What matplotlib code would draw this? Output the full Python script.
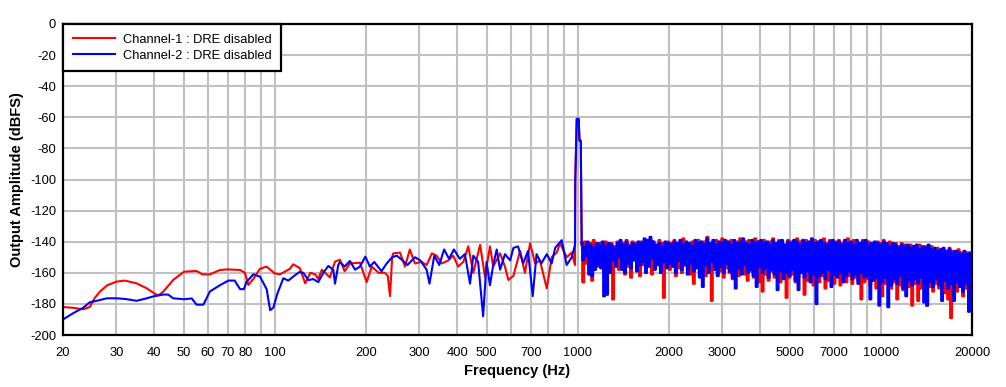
import numpy as np
import matplotlib
matplotlib.use('Agg')
import matplotlib.pyplot as plt

# ---- dados ----
# Canal 1 (vermelho): trecho suave + trecho ate o pico de 1 kHz
ch1_freq = [20, 21.6, 23.3, 24.5, 25.5, 26.5, 28, 30, 32, 35, 37.8, 40, 41.3, 42.9, 46.2, 50.2,
            55.2, 57.6, 61.1, 65.9, 70, 76.8, 79.7, 81.8, 84.9, 89.3, 93.9, 100, 104, 112,
            115, 121, 126, 131, 136, 139, 143, 152, 158, 164,
            170, 177, 191, 201, 209, 220, 231, 236, 240, 244, 246,
            259, 269, 279, 290, 305, 317, 330, 342, 356, 374,
            388, 403, 419, 435, 452, 476, 494, 513, 526, 554,
            575, 590, 613, 645, 669, 696, 723, 750, 790, 820,
            852, 874, 919, 955, 979,
            981, 992, 1007, 1013, 1023]
ch1_db = [-182, -182.5, -183.5, -182, -176, -172, -168, -165.7, -165, -166.8, -170, -173.2, -174.6,
          -172, -164.6, -159.3, -158.8, -161, -161, -158.2, -157.8, -158.2, -160, -167.8, -164,
          -157.5, -156, -160.4, -161, -157.5, -154.5, -157, -166.8, -160, -161, -164, -158,
          -163, -152.8, -151.6,
          -159, -154, -153.5, -166, -156, -160, -160, -162, -175, -150, -147.5,
          -147, -156, -145, -154, -153, -155, -147.5, -149, -154, -152,
          -149, -156, -153, -143, -160, -142, -162.5, -143, -156, -147.5,
          -156, -164.6, -162, -146, -160, -141, -154, -152, -170, -150,
          -147, -141, -150, -147, -155,
          -101, -61, -61, -75, -75]

# Canal 2 (azul)
ch2_freq = [20, 21.6, 23.3, 24.5, 26.5, 27.9, 30, 32, 35, 37.8,
            40, 42.9, 44.5, 46.2, 50.2, 53.2, 55.2, 58.1, 61.1, 65.9,
            70.3, 73.7, 76.8, 79.1, 80.6, 84.9, 89.4, 94, 96.5, 98.9,
            101.9, 106.7, 110.8, 115, 120.5, 124.2, 129, 134, 139.2, 144.6,
            150.2, 156, 158, 162, 164,
            170, 177, 184, 191, 199, 206, 213, 225, 234, 244,
            253, 264, 274, 290, 302, 317, 324, 336, 349, 362,
            376, 390, 408, 424, 441, 452, 469, 487, 500, 513,
            526, 540, 554, 575, 598, 613, 635, 660, 685, 710,
            731, 758, 790, 820, 842, 885, 919, 955, 979,
            981, 992, 1007, 1013, 1023]
ch2_db = [-190, -186, -182.5, -179, -177.5, -176.4, -176.4, -176.8, -178, -176.4,
          -175, -174, -174, -176.4, -177, -176.5, -180.5, -180.5, -172, -168,
          -165, -165, -170.5, -170.5, -166, -161, -162.5, -170.5, -184, -182.5,
          -173.6, -163.5, -165, -162.5, -159.5, -160, -164.7, -164, -166, -160,
          -155.6, -158, -167, -155, -153,
          -156, -152.4, -158, -156, -149.6, -156, -153, -159, -154, -150,
          -149, -152, -155, -150, -152, -158, -167, -149, -155, -145,
          -151, -145, -151, -148, -167, -149, -153, -188, -153, -168,
          -155, -145, -158, -148, -152, -144, -143, -154, -146, -175,
          -148, -154, -148, -154, -144, -139, -155, -150, -142,
          -101, -61, -61, -75, -75]

# trecho denso acima de 1 kHz: picos (alto) e vales (baixo) alternados
denso_inicio = 1030
denso_fim = 20000

ch1_alto = [-142, -140, -143, -141, -139, -142, -141, -143, -140, -142,
            -141, -143, -140, -142, -141, -139, -142, -140, -141, -143,
            -140, -142, -139, -141, -140, -143, -139, -141, -142, -140,
            -141, -139, -142, -140, -138, -141, -143, -140, -142, -139,
            -141, -140, -137, -142, -140, -139, -141, -138, -140, -142,
            -139, -141, -140, -138, -142, -140, -139, -141, -138, -140,
            -141, -139, -142, -140, -138, -141, -139, -140, -142, -139,
            -140, -141, -138, -140, -142, -139, -141, -140, -139, -141,
            -140, -138, -141, -139, -142, -140, -139, -141, -140, -138,
            -141, -139, -140, -142, -139, -141, -140, -142, -141, -140,
            -141, -139, -142, -140, -142, -141, -143, -141, -142, -144,
            -142, -143, -145, -142, -144, -143, -145, -143, -146, -144,
            -146, -145, -147, -144, -146, -148, -145, -147, -148, -147, -149]
ch1_baixo = [-166, -154, -158, -165, -150, -156, -153, -158, -161, -155,
             -177, -152, -158, -154, -161, -156, -163, -150, -158, -162,
             -155, -159, -152, -161, -157, -154, -160, -176, -156, -158,
             -153, -162, -157, -160, -155, -158, -161, -167, -154, -160,
             -157, -162, -158, -178, -155, -161, -159, -163, -157, -160,
             -164, -158, -162, -156, -161, -165, -159, -163, -160, -166,
             -172, -161, -165, -159, -163, -160, -166, -162, -176, -163,
             -161, -166, -163, -160, -174, -165, -162, -168, -163, -166,
             -162, -170, -165, -163, -167, -161, -168, -164, -166, -162,
             -167, -163, -165, -177, -166, -164, -168, -163, -170, -166,
             -175, -167, -164, -170, -166, -177, -168, -171, -165, -169,
             -181, -167, -178, -170, -166, -181, -169, -172, -167, -170,
             -168, -173, -177, -189, -170, -172, -168, -175, -170, -184, -171]

ch2_alto = [-141, -143, -140, -142, -144, -141, -142, -140, -143, -141,
            -142, -144, -141, -139, -142, -140, -143, -141, -142, -140,
            -141, -138, -139, -137, -140, -142, -141, -143, -140, -141,
            -142, -140, -141, -139, -142, -140, -141, -143, -139, -141,
            -140, -142, -138, -141, -139, -142, -140, -141, -139, -140,
            -142, -139, -141, -140, -138, -141, -142, -139, -141, -140,
            -139, -141, -140, -142, -139, -141, -140, -139, -142, -140,
            -141, -139, -140, -142, -139, -141, -140, -138, -141, -140,
            -139, -141, -142, -140, -139, -141, -140, -142, -139, -141,
            -140, -142, -139, -141, -140, -139, -142, -141, -140, -141,
            -142, -140, -141, -143, -141, -142, -144, -142, -143, -142,
            -144, -143, -142, -145, -143, -144, -142, -145, -144, -146,
            -145, -144, -146, -145, -147, -146, -147, -148, -146, -148, -147]
ch2_baixo = [-152, -149, -161, -162, -158, -155, -157, -175, -174, -160,
             -152, -156, -150, -158, -160, -154, -157, -152, -159, -155,
             -153, -160, -156, -151, -158, -155, -160, -153, -157, -154,
             -156, -160, -152, -158, -155, -161, -154, -159, -157, -163,
             -169, -155, -160, -153, -158, -162, -156, -160, -154, -159,
             -163, -170, -157, -161, -155, -160, -158, -162, -169, -156,
             -160, -157, -163, -158, -161, -171, -159, -164, -160, -162,
             -158, -165, -171, -160, -163, -159, -166, -161, -180, -162,
             -160, -164, -158, -169, -161, -163, -160, -166, -162, -159,
             -164, -161, -167, -160, -163, -162, -177, -165, -163, -181,
             -166, -163, -182, -168, -164, -167, -162, -170, -175, -165,
             -168, -164, -167, -163, -179, -181, -166, -169, -164, -168,
             -178, -165, -170, -167, -178, -166, -169, -172, -167, -185, -170]

ticks_x = [20, 30, 40, 50, 60, 70, 80, 100, 200, 300, 400, 500, 700,
           1000, 2000, 3000, 5000, 7000, 10000, 20000]
grade_extra_x = [90, 600, 800, 900, 4000, 6000, 8000, 9000]
ticks_y = list(range(-200, 1, 20))


def trecho_denso(alto, baixo):
    n = 2 * len(alto)
    f_denso = np.geomspace(denso_inicio, denso_fim, n)
    db_denso = np.empty(n)
    db_denso[0::2] = alto
    db_denso[1::2] = baixo
    return f_denso, db_denso


f1d, y1d = trecho_denso(ch1_alto, ch1_baixo)
f2d, y2d = trecho_denso(ch2_alto, ch2_baixo)

plt.rcParams['font.family'] = ['Liberation Sans', 'DejaVu Sans']
plt.rcParams['axes.unicode_minus'] = False

fig = plt.figure(figsize=(10.06, 3.87), dpi=100)
ax = fig.add_axes([63 / 1006, 52 / 387, 909 / 1006, 311 / 387])

vermelho = '#ff0000'
azul = '#0000ff'

# canal 1 primeiro, canal 2 por cima
ax.plot(ch1_freq + [f1d[0]], ch1_db + [y1d[0]], color=vermelho, lw=1.5,
        label='Channel-1 : DRE disabled')
ax.plot(f1d, y1d, color=vermelho, lw=1.8, drawstyle='steps-mid', snap=False)
ax.plot(ch2_freq + [f2d[0]], ch2_db + [y2d[0]], color=azul, lw=1.5,
        label='Channel-2 : DRE disabled')
ax.plot(f2d, y2d, color=azul, lw=1.8, drawstyle='steps-mid', snap=False)

ax.set_xscale('log')
ax.set_xlim(20, 20000)
ax.set_ylim(-200, 0)
ax.set_xticks(ticks_x)
ax.set_xticklabels([str(t) for t in ticks_x])
ax.set_xticks(grade_extra_x, minor=True)
ax.set_xticklabels([], minor=True)
ax.set_yticks(ticks_y)
ax.tick_params(which='both', length=0, labelsize=9.3)
ax.tick_params(axis='x', pad=9)
ax.tick_params(axis='y', pad=5)
ax.grid(True, which='both', color='#c0c0c0', lw=1.5)
ax.set_axisbelow(True)
for s in ax.spines.values():
    s.set_linewidth(1.6)

ax.set_xlabel('Frequency (Hz)', fontsize=10.5, fontweight='bold', labelpad=3)
ax.set_ylabel('Output Amplitude (dBFS)', fontsize=10.5, fontweight='bold', labelpad=4)

leg = ax.legend(loc='upper left', fontsize=9.3, handlelength=3.3, borderaxespad=0,
                fancybox=False, framealpha=1, edgecolor='black',
                borderpad=0.75, labelspacing=0.3, handletextpad=0.6)
leg.get_frame().set_linewidth(1.6)

fig.savefig('out.png', dpi=100)
